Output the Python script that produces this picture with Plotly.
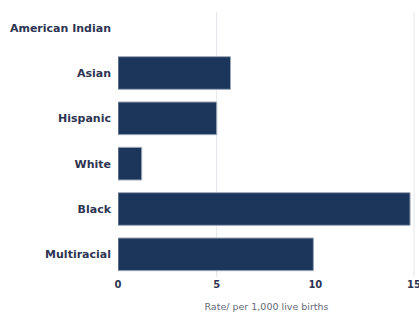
import plotly.graph_objects as go

categories = ["American Indian", "Asian", "Hispanic", "White", "Black", "Multiracial"]
rates = [None, 5.7, 5.0, 1.2, 14.8, 9.9]
tick_vals = [0, 5, 10, 15]
tick_text = ["0", "5", "10", "15"]
grid_vals = [5, 15]

bar_color = "#1b355b"
text_color = "#2e3552"

fig = go.Figure(go.Bar(
    x=rates, y=categories, orientation="h",
    marker=dict(color=bar_color, line=dict(color="#9aa6b8", width=1)),
))

for g in grid_vals:
    fig.add_shape(type="line", xref="x", yref="paper", x0=g, x1=g, y0=0, y1=0.975,
                  line=dict(color="#e3e5ea", width=1), layer="below")

fig.update_layout(
    width=419, height=314,
    margin=dict(l=118, r=4, t=5, b=37),
    plot_bgcolor="white", paper_bgcolor="white",
    bargap=0.28,
    showlegend=False,
    font=dict(family="DejaVu Sans", color=text_color),
)
fig.update_xaxes(
    range=[0, 15.05], tickvals=tick_vals, ticktext=tick_text,
    showgrid=False, zeroline=False, showline=False, automargin=False,
    ticklabeloverflow="allow",
    tickfont=dict(size=10, weight="bold", color=text_color),
    title=dict(text="Rate/ per 1,000 live births", font=dict(size=9.5, color="#666a78"), standoff=14),
)
fig.update_yaxes(
    categoryorder="array", categoryarray=categories[::-1],
    showgrid=False, zeroline=False, showline=False, automargin=False,
    tickfont=dict(size=11, weight="bold", color=text_color),
    ticklabelstandoff=6,
)

fig.write_html("out.html", config={"displayModeBar": False},
               post_script="document.body.style.margin='0';document.body.style.overflow='hidden';")
